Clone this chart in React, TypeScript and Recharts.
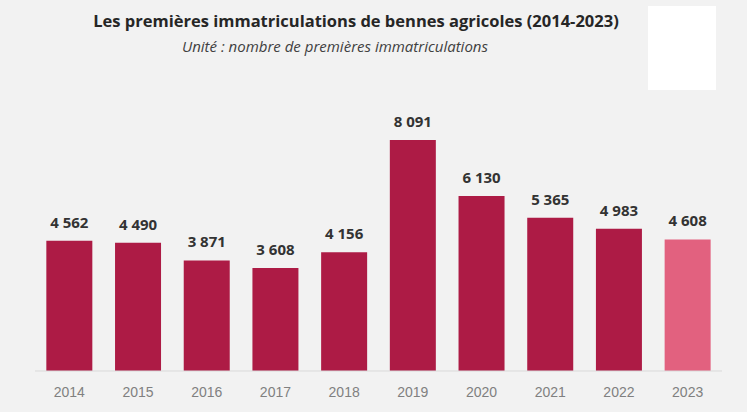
import { BarChart, Bar, XAxis, YAxis, Cell, LabelList } from "recharts";

const years = ["2014", "2015", "2016", "2017", "2018", "2019", "2020", "2021", "2022", "2023"];
const registrations = [4562, 4490, 3871, 3608, 4156, 8091, 6130, 5365, 4983, 4608];

const data = years.map((year, i) => ({ year, value: registrations[i] }));

const BAR = "#ad1b45";
const LAST = "#e2617f";

// thousands separated by a non-breaking space so the label stays on one line
const fmt = (v: number) => String(v).replace(/\B(?=(\d{3})+(?!\d))/g, "\u00a0");

export default function App() {
  return (
    <div
      style={{
        position: "absolute",
        left: 0,
        top: 0,
        width: 747,
        height: 412,
        background: "#f2f2f2",
        overflow: "hidden",
      }}
    >
      <div
        style={{
          position: "absolute",
          left: 648,
          top: 6,
          width: 68,
          height: 84,
          background: "#ffffff",
        }}
      />
      <div
        style={{
          position: "absolute",
          left: 0,
          top: 9,
          width: 712,
          textAlign: "center",
          fontFamily: "'Open Sans', sans-serif",
          fontWeight: 700,
          fontSize: 16.5,
          color: "#262626",
        }}
      >
        Les premières immatriculations de bennes agricoles (2014-2023)
      </div>
      <div
        style={{
          position: "absolute",
          left: 0,
          top: 36,
          width: 670,
          textAlign: "center",
          fontFamily: "'Open Sans', sans-serif",
          fontStyle: "italic",
          fontSize: 15,
          color: "#404040",
        }}
      >
        Unité : nombre de premières immatriculations
      </div>
      <div style={{ position: "absolute", left: 0, top: 0 }}>
        <BarChart
          width={747}
          height={412}
          data={data}
          margin={{ top: 114, right: 25, bottom: 0, left: 35 }}
          barCategoryGap="16.5%"
        >
          <XAxis
            dataKey="year"
            axisLine={{ stroke: "#d9d9d9" }}
            tickLine={false}
            tick={{ fill: "#808080", fontSize: 14, fontFamily: "'Liberation Sans', Arial, sans-serif" }}
            tickMargin={10}
            height={41}
          />
          <YAxis hide domain={[0, 9000]} />
          <Bar dataKey="value" isAnimationActive={false}>
            {data.map((d, i) => (
              <Cell key={d.year} fill={i === data.length - 1 ? LAST : BAR} />
            ))}
            <LabelList
              dataKey="value"
              position="top"
              offset={13}
              formatter={(v: any) => fmt(Number(v))}
              style={{
                fill: "#333333",
                fontSize: 15,
                fontWeight: 700,
                fontFamily: "'Open Sans', sans-serif",
              }}
            />
          </Bar>
        </BarChart>
      </div>
    </div>
  );
}
